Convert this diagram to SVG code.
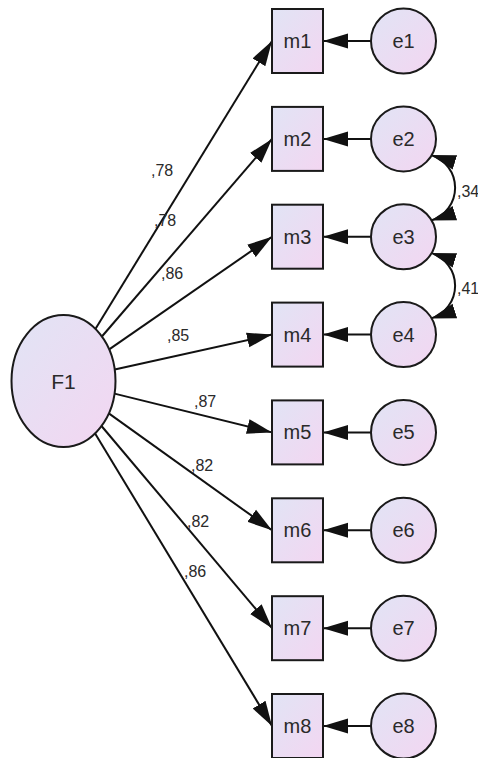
<svg xmlns="http://www.w3.org/2000/svg" width="478" height="758" viewBox="0 0 478 758">
<defs>
<linearGradient id="fill" x1="0" y1="0" x2="1" y2="1">
<stop offset="0" stop-color="#e1e4f5"/>
<stop offset="1" stop-color="#f3d6f1"/>
</linearGradient>
<marker id="ah" markerUnits="userSpaceOnUse" markerWidth="26" markerHeight="16" viewBox="0 0 26 16" refX="25" refY="8" orient="auto-start-reverse">
<path d="M0,0.5 L25,8 L0,15.5 z" fill="#111"/>
</marker>
</defs>
<style>
.node{fill:url(#fill);stroke:#1a1a1a;stroke-width:2}
.lbl{font-family:"Liberation Sans",Arial,sans-serif;font-size:20px;fill:#2a2a2a;text-anchor:middle}
.big{font-size:21px}
.el{font-family:"Liberation Sans",Arial,sans-serif;font-size:16px;fill:#2a2a2a}
.c{stroke:#111;stroke-width:2;fill:none;marker-end:url(#ah)}
.cov{stroke:#111;stroke-width:2;fill:none;marker-start:url(#ah);marker-end:url(#ah)}
</style>
<g id="connectors">
<line class="c" x1="95.4" y1="328.9" x2="272" y2="41"/>
<line class="c" x1="101.9" y1="336.5" x2="272" y2="138.9"/>
<line class="c" x1="109.2" y1="349.4" x2="272" y2="236.7"/>
<line class="c" x1="114.7" y1="369.6" x2="272" y2="334.6"/>
<line class="c" x1="114.5" y1="393.6" x2="272" y2="432.4"/>
<line class="c" x1="108.8" y1="413.4" x2="272" y2="530.3"/>
<line class="c" x1="101.5" y1="426" x2="272" y2="628.2"/>
<line class="c" x1="95.1" y1="433.4" x2="272" y2="726"/>
<line class="c" x1="371" y1="41" x2="323" y2="41"/>
<line class="c" x1="371" y1="138.9" x2="323" y2="138.9"/>
<line class="c" x1="371" y1="236.7" x2="323" y2="236.7"/>
<line class="c" x1="371" y1="334.6" x2="323" y2="334.6"/>
<line class="c" x1="371" y1="432.4" x2="323" y2="432.4"/>
<line class="c" x1="371" y1="530.3" x2="323" y2="530.3"/>
<line class="c" x1="371" y1="628.2" x2="323" y2="628.2"/>
<line class="c" x1="371" y1="726" x2="323" y2="726"/>
<path class="cov" d="M431,155 A34.3,34.3 0 0 1 431,220.5"/>
<path class="cov" d="M431,252.9 A34.3,34.3 0 0 1 431,318.4"/>
<text class="el" x="151" y="176">,78</text>
<text class="el" x="154" y="226">,78</text>
<text class="el" x="161" y="279">,86</text>
<text class="el" x="167" y="341">,85</text>
<text class="el" x="194" y="407">,87</text>
<text class="el" x="191" y="471">,82</text>
<text class="el" x="187" y="527">,82</text>
<text class="el" x="184" y="577">,86</text>
<text class="el" x="457" y="197">,34</text>
<text class="el" x="457" y="294">,41</text>
</g>
<g id="F1"><ellipse class="node" cx="63.5" cy="381" rx="52" ry="66"/><text class="lbl big" x="63.5" y="388.5">F1</text></g>
<g id="m1"><rect class="node" x="272" y="9" width="51" height="64"/><text class="lbl" x="297.5" y="48">m1</text></g>
<g id="m2"><rect class="node" x="272" y="106.9" width="51" height="64"/><text class="lbl" x="297.5" y="145.9">m2</text></g>
<g id="m3"><rect class="node" x="272" y="204.7" width="51" height="64"/><text class="lbl" x="297.5" y="243.7">m3</text></g>
<g id="m4"><rect class="node" x="272" y="302.6" width="51" height="64"/><text class="lbl" x="297.5" y="341.6">m4</text></g>
<g id="m5"><rect class="node" x="272" y="400.4" width="51" height="64"/><text class="lbl" x="297.5" y="439.4">m5</text></g>
<g id="m6"><rect class="node" x="272" y="498.3" width="51" height="64"/><text class="lbl" x="297.5" y="537.3">m6</text></g>
<g id="m7"><rect class="node" x="272" y="596.2" width="51" height="64"/><text class="lbl" x="297.5" y="635.2">m7</text></g>
<g id="m8"><rect class="node" x="272" y="694" width="51" height="64"/><text class="lbl" x="297.5" y="733">m8</text></g>
<g id="e1"><circle class="node" cx="403.5" cy="41" r="32.5"/><text class="lbl" x="403.5" y="48">e1</text></g>
<g id="e2"><circle class="node" cx="403.5" cy="138.9" r="32.5"/><text class="lbl" x="403.5" y="145.9">e2</text></g>
<g id="e3"><circle class="node" cx="403.5" cy="236.7" r="32.5"/><text class="lbl" x="403.5" y="243.7">e3</text></g>
<g id="e4"><circle class="node" cx="403.5" cy="334.6" r="32.5"/><text class="lbl" x="403.5" y="341.6">e4</text></g>
<g id="e5"><circle class="node" cx="403.5" cy="432.4" r="32.5"/><text class="lbl" x="403.5" y="439.4">e5</text></g>
<g id="e6"><circle class="node" cx="403.5" cy="530.3" r="32.5"/><text class="lbl" x="403.5" y="537.3">e6</text></g>
<g id="e7"><circle class="node" cx="403.5" cy="628.2" r="32.5"/><text class="lbl" x="403.5" y="635.2">e7</text></g>
<g id="e8"><circle class="node" cx="403.5" cy="726" r="32.5"/><text class="lbl" x="403.5" y="733">e8</text></g>
</svg>
